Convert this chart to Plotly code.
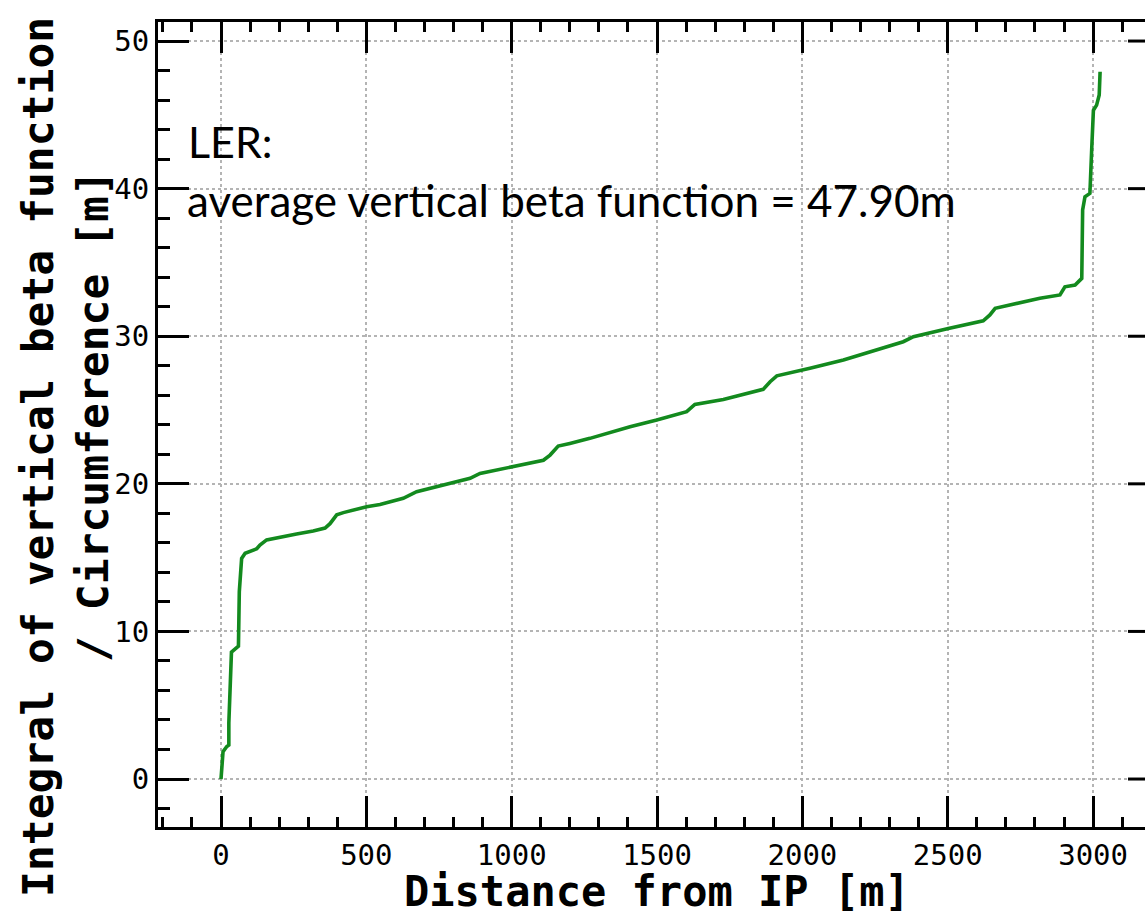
import plotly.graph_objects as go

# Distance from IP [m]
distance = [0, 3, 7, 20, 27, 27, 33, 36, 60, 63, 71, 83, 123, 134, 157, 203, 260, 317, 358,
            375, 398, 421, 501, 547, 627, 673, 857, 891, 1005, 1109, 1132, 1160, 1200, 1269,
            1407, 1499, 1602, 1630, 1728, 1865, 1889, 1912, 2026, 2141, 2347, 2382, 2502,
            2622, 2645, 2663, 2817, 2886, 2903, 2938, 2961, 2961, 2964, 2972, 2989, 2995,
            3001, 3012, 3021, 3024]
# Integral of vertical beta function / circumference [m]
integral = [0, 1.3, 1.85, 2.2, 2.3, 3.8, 7.2, 8.6, 9.0, 12.7, 14.95, 15.3, 15.6, 15.85, 16.2,
            16.4, 16.6, 16.8, 17.0, 17.3, 17.9, 18.05, 18.45, 18.6, 19.02, 19.47, 20.37, 20.7,
            21.16, 21.6, 21.95, 22.56, 22.74, 23.08, 23.87, 24.32, 24.89, 25.38, 25.72, 26.4,
            26.92, 27.32, 27.83, 28.39, 29.63, 29.97, 30.53, 31.05, 31.44, 31.89, 32.57, 32.8,
            33.35, 33.47, 33.92, 35.5, 38.55, 39.45, 39.68, 42.6, 45.3, 45.66, 46.34, 47.92]

x_ticks = [0, 500, 1000, 1500, 2000, 2500, 3000]
y_ticks = [0, 10, 20, 30, 40, 50]

W, H = 1145, 915
L, R, T, B = 158, 0, 22, 88
pw, ph = W - L - R, H - T - B

def px_x(p):
    return (p - L) / pw

def px_y(p):
    return (H - B - p) / ph

mono = "DejaVu Sans Mono"

fig = go.Figure()
fig.add_trace(go.Scatter(x=distance, y=integral, mode="lines",
                         line=dict(color="#138a1e", width=3.6), showlegend=False))

axis_common = dict(
    showline=True, linecolor="black", linewidth=3,
    ticks="inside", tickcolor="black", tickwidth=3, ticklen=31,
    showgrid=True, gridcolor="#b4b4b4", gridwidth=1.5, griddash="dot",
    zeroline=False,
    tickfont=dict(family=mono, size=29, color="black"),
)

fig.update_layout(
    width=W, height=H,
    margin=dict(l=L, r=R, t=T, b=B),
    paper_bgcolor="white", plot_bgcolor="white",
    xaxis=dict(range=[-216.7, 3178.5], tickvals=x_ticks, mirror="allticks",
               minor=dict(ticks="inside", ticklen=10, tickwidth=3, tickcolor="black",
                          dtick=100, tick0=0, showgrid=False),
               **axis_common),
    yaxis=dict(range=[-3.25, 51.29], tickvals=y_ticks, mirror=False,
               minor=dict(ticks="inside", ticklen=12, tickwidth=3, tickcolor="black",
                          dtick=2, tick0=0, showgrid=False),
               **axis_common),
)

# right-hand tick stubs (the right frame lies just beyond the picture edge)
for t in y_ticks:
    fig.add_shape(type="line", xref="paper", yref="y", x0=1 - 17 / pw, x1=1, y0=t, y1=t,
                  line=dict(color="black", width=3), layer="above")

annotations = [
    dict(text="Distance from IP [m]", x=px_x(657), y=px_y(891), xanchor="center", yanchor="middle",
         font=dict(family=mono, size=42, color="black", weight="bold")),
    dict(text="Integral of vertical beta function", x=px_x(38), y=px_y(457), textangle=-90,
         xanchor="center", yanchor="middle",
         font=dict(family=mono, size=43, color="black", weight="bold")),
    dict(text="/ Circumference [m]", x=px_x(93), y=px_y(416), textangle=-90,
         xanchor="center", yanchor="middle",
         font=dict(family=mono, size=43, color="black", weight="bold")),
    dict(text="LER:", x=px_x(186), y=px_y(142), xanchor="left", yanchor="middle",
         font=dict(family="Lato", size=43, color="black")),
    dict(text="average vertical beta function = 47.90m", x=px_x(185), y=px_y(200),
         xanchor="left", yanchor="middle",
         font=dict(family="Lato", size=44, color="black")),
]
for a in annotations:
    a.update(xref="paper", yref="paper", showarrow=False)
fig.update_layout(annotations=annotations)

fig.write_html("out.html")
